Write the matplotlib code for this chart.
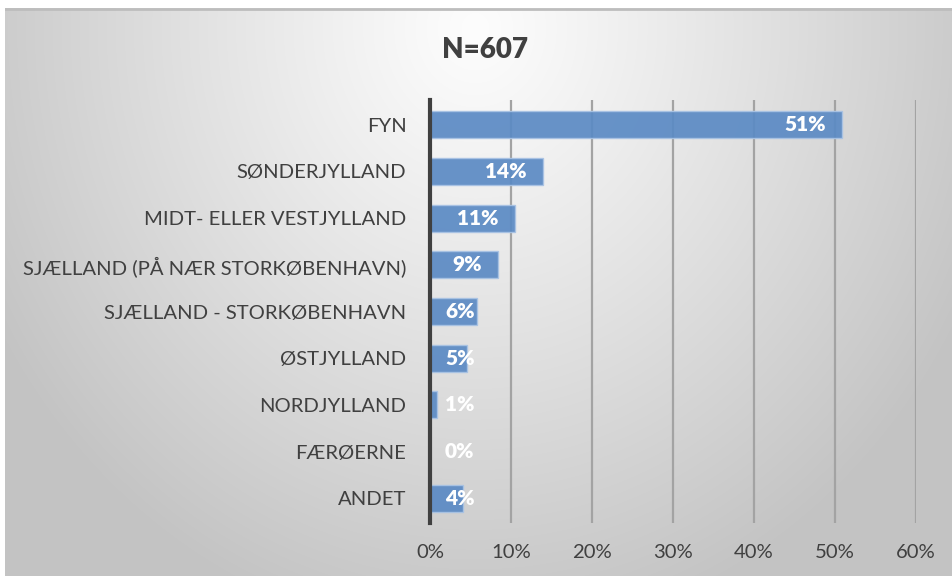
import numpy as np
import matplotlib
matplotlib.use("Agg")
import matplotlib.pyplot as plt

categories = ["FYN", "SØNDERJYLLAND", "MIDT- ELLER VESTJYLLAND",
              "SJÆLLAND (PÅ NÆR STORKØBENHAVN)", "SJÆLLAND - STORKØBENHAVN",
              "ØSTJYLLAND", "NORDJYLLAND", "FÆRØERNE", "ANDET"]
values = [50.9, 13.9, 10.5, 8.4, 5.8, 4.6, 0.9, 0.0, 4.1]
value_labels = ["51%", "14%", "11%", "9%", "6%", "5%", "1%", "0%", "4%"]
xticks = [0, 10, 20, 30, 40, 50, 60]
xtick_labels = ["0%", "10%", "20%", "30%", "40%", "50%", "60%"]
title = "N=607"

plt.rcParams['font.family'] = ['Lato', 'DejaVu Sans']

W, H = 952, 576
fig = plt.figure(figsize=(W / 100, H / 100), dpi=100)
fig.patch.set_facecolor("white")

# background gradient panel
bg = fig.add_axes([5 / W, 0, (W - 5) / W, (H - 8) / H])
bg.set_axis_off()
yy, xx = np.mgrid[0:568, 0:947]
cx, cy = 470, 20
r = np.sqrt(((xx - cx) / 520.0) ** 2 + ((yy - cy) / 580.0) ** 2)
r = np.clip(r, 0, 1.25)
g = 253 - 54 * r ** 1.1
g = np.clip(g, 195, 253) / 255.0
img = np.dstack([g, g, g])
bg.imshow(img, aspect='auto', extent=[0, 1, 0, 1], origin='upper')
bg.set_xlim(0, 1)
bg.set_ylim(0, 1)
bg.plot([0, 1], [0.998, 0.998], color="#bdbdbd", lw=2, transform=bg.transAxes)

ax = fig.add_axes([430 / W, (H - 523) / H, (916 - 430) / W, (523 - 100) / H])
ax.patch.set_alpha(0)
y = np.arange(len(categories))
ax.set_xlim(0, 60)
ax.set_ylim(len(categories) - 0.47, -0.53)
ax.set_xticks(xticks)
ax.set_xticklabels(xtick_labels)
for xv in xticks[1:]:
    ax.axvline(xv, color="#a3a3a3", lw=1.6, zorder=1)
ax.barh(y, values, height=0.58, color="#5b8ac4", alpha=0.92,
        edgecolor="#a9c3e4", linewidth=1.0, zorder=2)
for yi, v, lab in zip(y, values, value_labels):
    ax.text(max(v - 2.0, 5.5), yi, lab, ha="right", va="center",
            color="white", fontsize=15, fontweight="heavy", zorder=3)
ax.set_yticks(y)
ax.set_yticklabels(categories)
ax.tick_params(axis='both', length=0, labelsize=14.6, colors="#404040")
ax.tick_params(axis='y', pad=17)
ax.tick_params(axis='x', pad=15)
for s in ["top", "right", "bottom"]:
    ax.spines[s].set_visible(False)
ax.spines["left"].set_color("#404040")
ax.spines["left"].set_linewidth(3)
ax.spines["left"].set_zorder(4)

fig.text(485 / W, 1 - 50 / H, title, ha="center", va="center",
         fontsize=20, fontweight="heavy", color="#404040")

fig.savefig("out.png", dpi=100)
